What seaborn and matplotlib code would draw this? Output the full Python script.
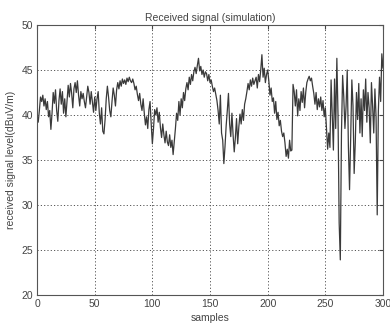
import matplotlib
matplotlib.use("Agg")
import matplotlib.pyplot as plt
import seaborn as sns
import numpy as np
import pandas as pd

title = "Received signal (simulation)"
xlabel = "samples"
ylabel = "received signal level(dBuV/m)"
xticks = [0, 50, 100, 150, 200, 250, 300]
yticks = [20, 25, 30, 35, 40, 45, 50]

seg0 = [40.0, 39.2, 40.5, 42.0, 41.5, 42.2, 41.0, 41.8, 40.6, 41.5,
        39.8, 40.5, 38.4, 40.2, 42.5, 41.3, 42.8, 40.5, 39.3, 41.6,
        42.9, 41.2, 42.6, 40.2, 41.8, 39.8, 41.5, 43.3, 42.0, 43.5,
        42.4, 40.8, 42.9, 43.6, 42.5, 43.8, 42.2, 41.0, 42.6, 41.8,
        42.4, 41.5, 40.8, 42.0, 43.2, 42.5, 41.2, 42.6, 41.5, 40.3]
seg1 = [42.0, 40.5, 41.8, 42.6, 40.2, 39.0, 40.8, 38.2, 37.9, 39.5,
        41.8, 43.2, 42.0, 40.5, 39.8, 41.5, 43.0, 42.2, 41.0, 42.8,
        43.6, 42.9, 43.8, 43.2, 44.0, 43.5, 43.9, 43.4, 44.1, 43.7,
        44.2, 43.8, 43.6, 44.0, 43.5, 42.8, 43.2, 42.3, 41.6, 42.4,
        41.2, 40.5, 41.8, 40.2, 38.9, 39.8, 38.5, 40.6, 41.5, 39.0]
seg2 = [36.8, 38.5, 40.6, 40.0, 40.8, 39.2, 40.3, 38.6, 37.5, 39.0,
        37.8, 36.9, 38.2, 37.0, 36.6, 37.8, 36.4, 37.2, 35.6, 37.0,
        38.5, 40.2, 39.4, 41.5, 40.0, 41.8, 40.8, 42.5, 41.6, 42.9,
        43.6, 42.8, 44.2, 43.4, 44.5, 43.8, 44.8, 45.3, 44.6, 45.5,
        46.3, 44.9, 45.4, 44.5, 45.0, 44.2, 44.8, 44.6, 43.8, 44.5]
seg3 = [43.6, 43.9, 43.2, 42.6, 43.0, 42.3, 41.6, 40.5, 39.0, 42.2,
        38.0, 37.2, 34.6, 36.5, 38.8, 40.5, 42.4, 39.0, 37.6, 40.2,
        37.8, 35.9, 37.5, 39.6, 36.8, 38.7, 40.1, 39.0, 40.6, 39.4,
        41.2, 41.8, 42.6, 43.5, 42.8, 43.9, 43.2, 44.1, 43.4, 43.8,
        44.2, 43.0, 44.5, 43.7, 45.0, 46.7, 44.2, 45.2, 43.6, 44.5]
seg4 = [45.0, 43.8, 42.2, 43.0, 41.5, 41.9, 40.2, 41.5, 39.5, 40.3,
        38.8, 39.4, 38.2, 37.6, 38.0, 36.9, 35.4, 36.2, 35.2, 37.2,
        36.0, 36.1, 43.4, 42.6, 41.0, 42.8, 39.9, 41.8, 40.5, 42.6,
        41.4, 43.0, 40.8, 42.5, 43.6, 44.0, 44.3, 43.8, 44.1, 43.2,
        42.4, 41.2, 42.5, 40.6, 41.8, 40.9, 42.0, 40.5, 41.6, 39.8]
seg5 = [40.8, 38.5, 36.2, 38.0, 36.4, 43.9, 40.0, 36.1, 44.0, 38.5,
        46.3, 40.0, 28.0, 23.9, 38.0, 44.4, 42.0, 38.5, 41.0, 45.0,
        36.5, 31.7, 37.5, 43.9, 41.0, 33.5, 37.0, 42.5, 39.5, 43.5,
        38.0, 41.8, 37.6, 42.8, 40.5, 44.0, 39.2, 42.5, 40.8, 36.9,
        43.6, 41.0, 38.0, 42.9, 39.8, 28.9, 40.5, 44.2, 41.5, 46.8,
        45.2]

values = seg0 + seg1 + seg2 + seg3 + seg4 + seg5
samples = list(range(len(values)))
df = pd.DataFrame({"samples": samples, "level": values})

sns.set_style("white")
plt.rcParams['font.family'] = ['Liberation Sans', 'DejaVu Sans']

fig = plt.figure(figsize=(3.9, 3.27), dpi=100)
ax = fig.add_axes([0.095, 0.098, 0.887, 0.8255])
sns.lineplot(data=df, x="samples", y="level", ax=ax, color="#3a3a3a", linewidth=0.9)

ax.set_xlim(0, 300)
ax.set_ylim(20, 50)
ax.set_xticks(xticks)
ax.set_yticks(yticks)
ax.grid(True, linestyle=(0, (1.2, 2.2)), color="#555555", linewidth=0.7)
ax.tick_params(direction="in", top=True, right=True, length=3, labelsize=7.5,
               colors="#444444", pad=3)
for s in ax.spines.values():
    s.set_color("#555555")
    s.set_linewidth(0.8)
ax.set_title(title, fontsize=7.5, color="#444444", pad=3)
ax.set_xlabel(xlabel, fontsize=7.5, color="#444444", labelpad=3)
ax.set_ylabel(ylabel, fontsize=7.5, color="#444444", labelpad=4)

fig.savefig("out.png", dpi=100)
